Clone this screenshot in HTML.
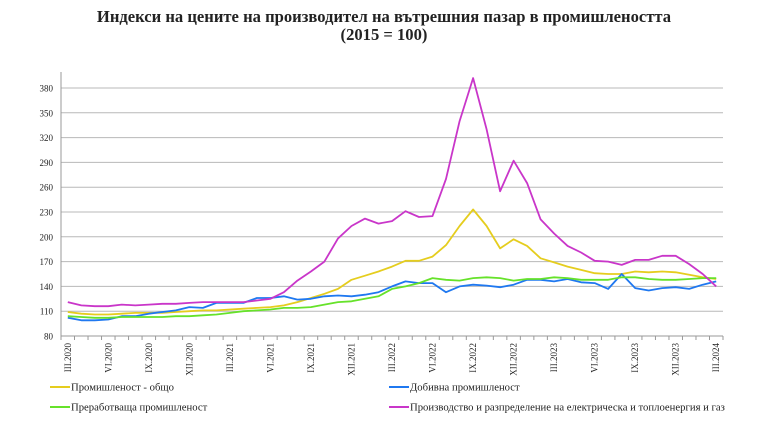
<!DOCTYPE html>
<html><head><meta charset="utf-8"><style>
body{margin:0;width:768px;height:432px;background:#fff;overflow:hidden}
svg{display:block}
text{font-family:"Liberation Serif",serif;fill:#222}
</style></head><body>
<svg id="s" width="768" height="432" xmlns="http://www.w3.org/2000/svg">
<text x="384" y="22" text-anchor="middle" font-size="16.6" font-weight="bold">Индекси на цените на производител на вътрешния пазар в промишлеността</text>
<text x="384" y="40" text-anchor="middle" font-size="16.6" font-weight="bold">(2015 = 100)</text>
<g id="grid"></g><g id="lines"></g>
<line x1="50" y1="387" x2="70" y2="387" stroke="#e5cd1e" stroke-width="2"/>
<text x="71" y="390.5" font-size="10.7">Промишленост - общо</text>
<line x1="389" y1="387" x2="409" y2="387" stroke="#1f78f0" stroke-width="2"/>
<text x="410" y="390.5" font-size="10.7">Добивна промишленост</text>
<line x1="50" y1="407" x2="70" y2="407" stroke="#66e22a" stroke-width="2"/>
<text x="71" y="410.5" font-size="10.7">Преработваща промишленост</text>
<line x1="389" y1="407" x2="409" y2="407" stroke="#c936c9" stroke-width="2"/>
<text x="410" y="410.5" font-size="10.7">Производство и разпределение на електрическа и топлоенергия и газ</text>
</svg>
<script>
var NS="http://www.w3.org/2000/svg",s=document.getElementById('s');
function el(t,a,p,txt){var e=document.createElementNS(NS,t);for(var k in a)e.setAttribute(k,a[k]);if(txt)e.textContent=txt;(p||s).appendChild(e);return e;}
function Y(v){return 336-(v-80)*0.8267;}
var g=document.getElementById('grid');
for(var v=80;v<=380;v+=30){var y=Y(v);
 if(v>80)el('line',{x1:61,x2:723,y1:y,y2:y,stroke:'#b8b8b8','stroke-width':1},g);
 el('text',{x:53,y:y+3.5,'text-anchor':'end','font-size':9},g,String(v));}
el('line',{x1:61,x2:61,y1:72,y2:336,stroke:'#999'},g);
el('line',{x1:61,x2:723,y1:336,y2:336,stroke:'#999'},g);
var st=662/49;
for(var i=0;i<=49;i++){var x=61+i*st;el('line',{x1:x,x2:x,y1:336,y2:340,stroke:'#999'},g);}
var rom=['III','VI','IX','XII'];
for(var i=0;i<49;i+=3){var x=61+st*(i+0.5),yr=2020+Math.floor((i+2)/12);
 var lab=rom[(i/3)%4]+'.'+yr;
 el('text',{x:0,y:0,'font-size':9,'text-anchor':'end',transform:'translate('+(x+3)+',343) rotate(-90)'},g,lab);}
var data={
'#e5cd1e':[109,107,106,106,107,108,108,108,109,110,111,111,112,113,114,115,117,121,126,131,137,148,153,158,164,171,171,176,190,213,233,213,186,197,189,174,169,164,160,156,155,155,158,157,158,157,154,151,149],
'#1f78f0':[102,99,99,100,104,104,107,109,111,115,114,120,120,120,126,126,128,124,125,128,129,128,130,133,140,146,144,144,133,140,142,141,139,142,148,148,146,149,145,144,137,155,138,135,138,139,137,142,146],
'#66e22a':[104,103,102,102,103,103,103,103,104,104,105,106,108,110,111,112,114,114,115,118,121,122,125,128,137,140,144,150,148,147,150,151,150,147,149,149,151,150,148,148,148,151,151,149,148,148,149,150,150],
'#c936c9':[121,117,116,116,118,117,118,119,119,120,121,121,121,121,123,125,133,147,158,170,198,213,222,216,219,231,224,225,270,340,392,330,255,292,265,221,204,189,181,171,170,166,172,172,177,177,167,155,140]};
var L=document.getElementById('lines');
for(var c in data){var p=data[c].map(function(v,i){return (61+st*(i+0.5)).toFixed(1)+','+Y(v).toFixed(1)}).join(' ');
 el('polyline',{points:p,fill:'none',stroke:c,'stroke-width':1.8,'stroke-linejoin':'round'},L);}
</script>
</body></html>
